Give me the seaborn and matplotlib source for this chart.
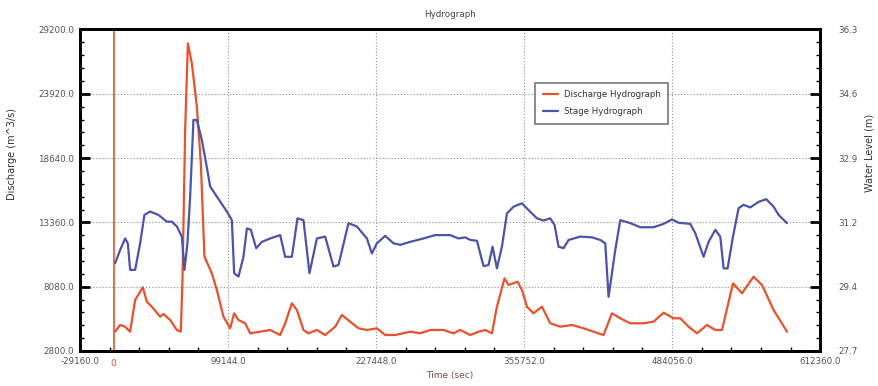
import numpy as np
import pandas as pd
import matplotlib
matplotlib.use("Agg")
import matplotlib.pyplot as plt
import matplotlib.transforms as mtransforms
from matplotlib.ticker import AutoMinorLocator
import seaborn as sns

# ---------------- data ----------------
discharge_time = [1300, 5640, 9970, 14300, 18640, 25320, 28780, 33120, 40320, 43180,
                  48990, 54790, 58260, 59650, 62000, 64330, 67800, 72130, 75600, 78720,
                  85140, 89470, 95200, 101000, 104470, 108200, 114010, 118350, 127020, 135690,
                  144360, 148700, 154500, 158840, 164560, 168890, 176170, 183370, 192040, 197850,
                  205050, 212240, 219520, 228190, 235390, 244060, 257070, 265740, 274410, 285940,
                  294610, 300420, 309090, 316280, 322100, 327900, 332240, 338830, 342300, 346630,
                  350100, 353910, 358250, 363970, 371250, 378450, 387120, 397260, 407320, 415990,
                  424660, 431940, 439140, 447810, 459340, 468010, 476680, 485350, 491160, 498350,
                  505640, 514310, 521500, 527310, 536850, 544650, 554700, 561990, 572050, 583660]
discharge = [4390, 4935, 4795, 4385, 6987, 8030, 6848, 6437, 5616, 5838,
             5345, 4524, 4385, 8629, 20944, 28062, 26420, 22857, 18210, 10542,
             9179, 7808, 5616, 4664, 5895, 5345, 5074, 4253, 4385, 4524,
             4114, 5074, 6716, 6166, 4524, 4253, 4524, 4114, 4795, 5756,
             5206, 4664, 4524, 4664, 4114, 4114, 4385, 4253, 4524, 4524,
             4253, 4524, 4114, 4385, 4524, 4253, 6437, 8769, 8219, 8358,
             8490, 7808, 6437, 5895, 6437, 5074, 4795, 4935, 4664, 4385,
             4114, 5895, 5485, 5074, 5074, 5206, 5944, 5485, 5485, 4795,
             4253, 4935, 4524, 4524, 8358, 7537, 8900, 8219, 6166, 4385]

stage_time = [1300, 5640, 9970, 12310, 14310, 18640, 22980, 26700, 31650, 38840,
              46120, 50460, 54790, 59130, 61380, 63980, 66330, 69190, 72130, 76470,
              80200, 83670, 89470, 98140, 102480, 104470, 108200, 112540, 115480, 118950,
              123550, 128490, 135690, 144360, 148700, 154500, 159350, 164560, 169760, 176170,
              183370, 190570, 194900, 203570, 210850, 219520, 223860, 228190, 235390, 242590,
              248400, 257070, 268600, 278740, 291750, 298940, 304760, 309090, 314900, 320620,
              324950, 328420, 332240, 336570, 340910, 346630, 353910, 359630, 366920, 372640,
              378450, 382180, 385650, 389980, 394320, 404460, 414600, 421800, 426130, 429000,
              434800, 439140, 447810, 456480, 468010, 476680, 483960, 489690, 499830, 504170,
              511360, 515700, 521500, 525840, 528700, 532170, 536850, 541700, 546040, 551850,
              559040, 565710, 572050, 576400, 583660]
stage = [30.05, 30.40, 30.71, 30.58, 29.87, 29.87, 30.58, 31.34, 31.43, 31.34,
         31.16, 31.16, 31.03, 30.76, 29.87, 30.58, 31.83, 33.88, 33.88, 33.34,
         32.72, 32.10, 31.83, 31.43, 31.20, 29.78, 29.69, 30.22, 30.98, 30.94,
         30.45, 30.62, 30.71, 30.80, 30.22, 30.22, 31.25, 31.20, 29.78, 30.71,
         30.76, 29.96, 30.00, 31.12, 31.03, 30.71, 30.31, 30.58, 30.78, 30.58,
         30.54, 30.62, 30.71, 30.80, 30.80, 30.71, 30.74, 30.67, 30.65, 29.97,
         30.00, 30.49, 29.91, 30.49, 31.38, 31.56, 31.65, 31.47, 31.25, 31.19,
         31.25, 31.07, 30.49, 30.45, 30.67, 30.76, 30.74, 30.67, 30.58, 29.15,
         30.40, 31.20, 31.12, 31.01, 31.01, 31.10, 31.22, 31.13, 31.10, 30.85,
         30.22, 30.62, 30.94, 30.76, 29.91, 29.91, 30.76, 31.52, 31.61, 31.54,
         31.69, 31.76, 31.56, 31.34, 31.12]

x_ticks = [-29160.0, 99144.0, 227448.0, 355752.0, 484056.0, 612360.0]
left_ticks = [2800.0, 8080.0, 13360.0, 18640.0, 23920.0, 29200.0]
right_ticks_labels = ["27.7", "29.4", "31.2", "32.9", "34.6", "36.3"]
right_range = (27.7, 36.3)

title = "Hydrograph"
x_label = "Time (sec)"
left_label = "Discharge (m^3/s)"
right_label = "Water Level (m)"
series_names = ["Discharge Hydrograph", "Stage Hydrograph"]

# ---------------- plot ----------------
sns.set_style("white")
plt.rcParams['font.family'] = ['DejaVu Sans']

RED = "#e8512c"
BLUE = "#4a54a8"
TICKC = "#555555"

fig = plt.figure(figsize=(8.79, 3.86), dpi=100)
ax = fig.add_axes([0.091, 0.0907, 0.842, 0.8329])
ax2 = ax.twinx()

df_d = pd.DataFrame({"t": discharge_time, "v": discharge})
df_s = pd.DataFrame({"t": stage_time, "v": stage})
sns.lineplot(data=df_d, x="t", y="v", ax=ax, color=RED, lw=1.6, label=series_names[0], legend=False)
sns.lineplot(data=df_s, x="t", y="v", ax=ax2, color=BLUE, lw=1.6, label=series_names[1], legend=False)
for ln in ax.get_lines() + ax2.get_lines():
    ln.set_solid_joinstyle("round")
    ln.set_solid_capstyle("round")

ax.axvline(0, color=RED, lw=1.2, zorder=3)

ax.set_xlim(x_ticks[0], x_ticks[-1])
ax.set_ylim(left_ticks[0], left_ticks[-1])
ax2.set_ylim(*right_range)

ax.set_xticks(x_ticks)
ax.set_xticklabels([f"{v:.1f}" for v in x_ticks])
ax.set_yticks(left_ticks)
ax.set_yticklabels([f"{v:.1f}" for v in left_ticks])
rt = np.linspace(right_range[0], right_range[1], len(right_ticks_labels))
ax2.set_yticks(rt)
ax2.set_yticklabels(right_ticks_labels)

ax.xaxis.set_minor_locator(AutoMinorLocator(5))
ax.yaxis.set_minor_locator(AutoMinorLocator(5))
ax2.yaxis.set_minor_locator(AutoMinorLocator(5))

ax.grid(True, which="major", color="#a0a0a0", ls=(0, (1.2, 1.6)), lw=0.8)
ax.set_axisbelow(True)

for a in (ax, ax2):
    for sp in a.spines.values():
        sp.set_color("black")
        sp.set_linewidth(2.0)

ax.tick_params(axis="x", which="major", direction="in", length=7, width=2, colors="black",
               labelcolor=TICKC, labelsize=6.3, pad=4)
ax.tick_params(axis="x", which="minor", direction="in", length=3, width=1, colors="black", bottom=True)
ax.tick_params(axis="y", which="major", direction="in", length=7, width=2, colors="black",
               labelcolor=TICKC, labelsize=6.3, pad=4, right=False)
ax.tick_params(axis="y", which="minor", direction="in", length=3, width=1, colors="black", left=True, right=False)
ax2.tick_params(axis="y", which="major", direction="in", length=7, width=2, colors="black",
                labelcolor=TICKC, labelsize=6.3, pad=13)
ax2.tick_params(axis="y", which="minor", direction="in", length=3, width=1, colors="black", right=True)

trans = mtransforms.blended_transform_factory(ax.transData, ax.transAxes)
ax.text(0, -0.025, "0", transform=trans, color=RED, fontsize=6.5, ha="center", va="top")

ax.set_title(title, fontsize=6.3, color="#444444", pad=9)
ax.set_xlabel(x_label, fontsize=6.5, color="#7a5040", labelpad=4)
ax.set_ylabel("")
ax2.set_ylabel("")
fig.text(0.014, 0.60, left_label, rotation=90, fontsize=7, color="#333333", ha="center", va="center")
fig.text(0.989, 0.605, right_label, rotation=90, fontsize=7, color="#333344", ha="center", va="center")

handles = [ax.get_lines()[0], ax2.get_lines()[0]]
leg = ax.legend(handles, series_names, loc="upper left", bbox_to_anchor=(0.615, 0.835),
                fontsize=6.2, frameon=True, fancybox=False, borderpad=0.9, labelspacing=0.9,
                handlelength=1.8, handletextpad=0.6, borderaxespad=0)
leg.get_frame().set_edgecolor("#555555")
leg.get_frame().set_linewidth(1.2)
for t in leg.get_texts():
    t.set_color("#333333")

fig.savefig("out.png", dpi=100)
